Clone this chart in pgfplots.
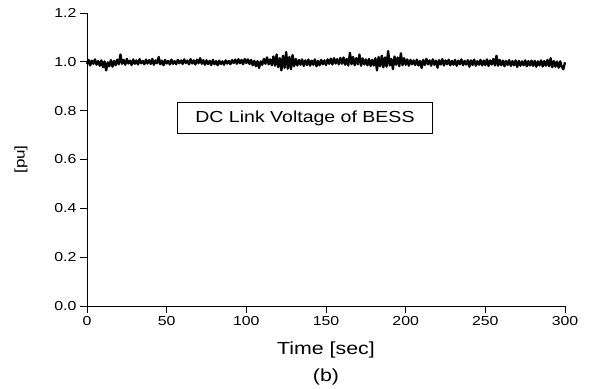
\documentclass[border=0pt]{standalone}
\usepackage{fontspec}
\setmainfont{Liberation Sans}[FakeStretch=1.22]
\usepackage{pgfplots}
\pgfplotsset{compat=1.18}
\begin{document}
\begin{tikzpicture}
\begin{axis}[
  scale only axis,
  width=478bp, height=293bp,
  xmin=0, xmax=300, ymin=0, ymax=1.2,
  axis lines*=left,
  axis line style={line width=0.8pt},
  tick align=outside,
  major tick length=7bp,
  tick style={line width=0.8pt, black},
  xtick={0,50,...,300},
  ytick={0,0.2,...,1.2},
  /pgf/number format/assume math mode=true,
  yticklabel style={/pgf/number format/.cd, fixed, fixed zerofill, precision=1},
  ticklabel style={font=\fontsize{13bp}{15bp}\selectfont},
  xlabel={Time [sec]\\(b)},
  xlabel style={at={(axis description cs:0.5,0)}, yshift=-36bp, anchor=north, align=center, inner sep=0pt, font=\fontsize{17.5bp}{27bp}\selectfont},
  ylabel={[pu]},
  ylabel style={at={(axis description cs:-0.138,0.5)}, anchor=center, font=\fontsize{14bp}{16bp}\selectfont},
  clip=false,
]
\addplot[black, line width=2.3pt, line join=round] table[x expr=\coordindex, y index=0] {
y
0.990
1.008
0.985
1.005
0.992
1.010
0.988
1.003
0.984
1.006
0.978
1.002
0.965
0.998
0.982
1.007
0.980
1.004
0.986
1.009
0.990
1.030
0.992
1.008
0.988
1.012
0.993
1.005
0.987
1.010
0.992
1.006
0.989
1.011
0.994
1.004
0.990
1.009
0.993
1.007
0.991
1.012
0.988
1.006
0.994
1.020
0.990
1.005
0.986
1.008
0.993
1.004
0.989
1.009
0.992
1.003
0.990
1.008
0.994
1.006
0.991
1.010
0.995
1.005
0.990
1.011
0.993
1.006
0.989
1.009
0.994
1.015
0.992
1.007
0.988
1.006
0.991
1.004
0.987
1.008
0.990
1.003
0.986
1.005
0.991
1.002
0.988
1.006
0.993
1.004
0.990
1.007
0.995
1.009
0.992
1.011
0.994
1.008
0.990
1.012
0.995
1.010
0.991
1.008
0.986
1.004
0.982
1.003
0.975
1.002
0.988
1.012
0.992
1.018
0.990
1.010
0.986
1.022
0.984
1.030
0.978
1.015
0.965
1.025
0.975
1.040
0.972
1.020
0.970
1.028
0.982
1.012
0.985
1.008
0.988
1.010
0.983
1.006
0.987
1.009
0.984
1.005
0.988
1.010
0.982
1.004
0.986
1.008
0.990
1.006
0.987
1.010
0.992
1.013
0.989
1.015
0.993
1.011
0.990
1.016
0.992
1.018
0.988
1.012
0.985
1.037
0.990
1.020
0.986
1.015
0.990
1.030
0.984
1.014
0.989
1.010
0.986
1.012
0.983
1.008
0.985
1.015
0.965
1.020
0.982
1.025
0.978
1.018
0.980
1.044
0.985
1.012
0.970
1.022
0.988
1.018
0.982
1.035
0.986
1.015
0.988
1.010
0.984
1.008
0.990
1.006
0.987
1.009
0.985
1.004
0.975
1.008
0.987
1.012
0.990
1.006
0.984
1.010
0.988
1.005
0.976
1.007
0.989
1.011
0.985
1.006
0.990
1.009
0.986
1.004
0.988
1.008
0.984
1.005
0.990
1.010
0.986
1.004
0.989
1.007
0.980
1.006
0.987
1.009
0.984
1.003
0.988
1.008
0.985
1.005
0.987
1.010
0.983
1.006
0.989
1.012
0.985
1.025
0.984
1.008
0.986
1.005
0.982
1.004
0.987
1.007
0.983
1.003
0.986
1.006
0.979
1.004
0.984
1.002
0.986
1.006
0.982
1.003
0.985
1.005
0.983
1.004
0.980
1.002
0.985
1.006
0.981
1.003
0.984
1.008
0.982
1.015
0.978
1.003
0.980
1.001
0.976
1.002
0.979
0.970
0.998
};
\node[draw, line width=0.8pt, minimum width=255bp, minimum height=31bp, inner sep=0pt, font=\fontsize{16bp}{18bp}\selectfont] at (axis cs:136.8,0.77) {DC Link Voltage of BESS};
\end{axis}
\path[use as bounding box] (-87bp,-83bp) rectangle (502bp,306bp);
\end{tikzpicture}
\end{document}
